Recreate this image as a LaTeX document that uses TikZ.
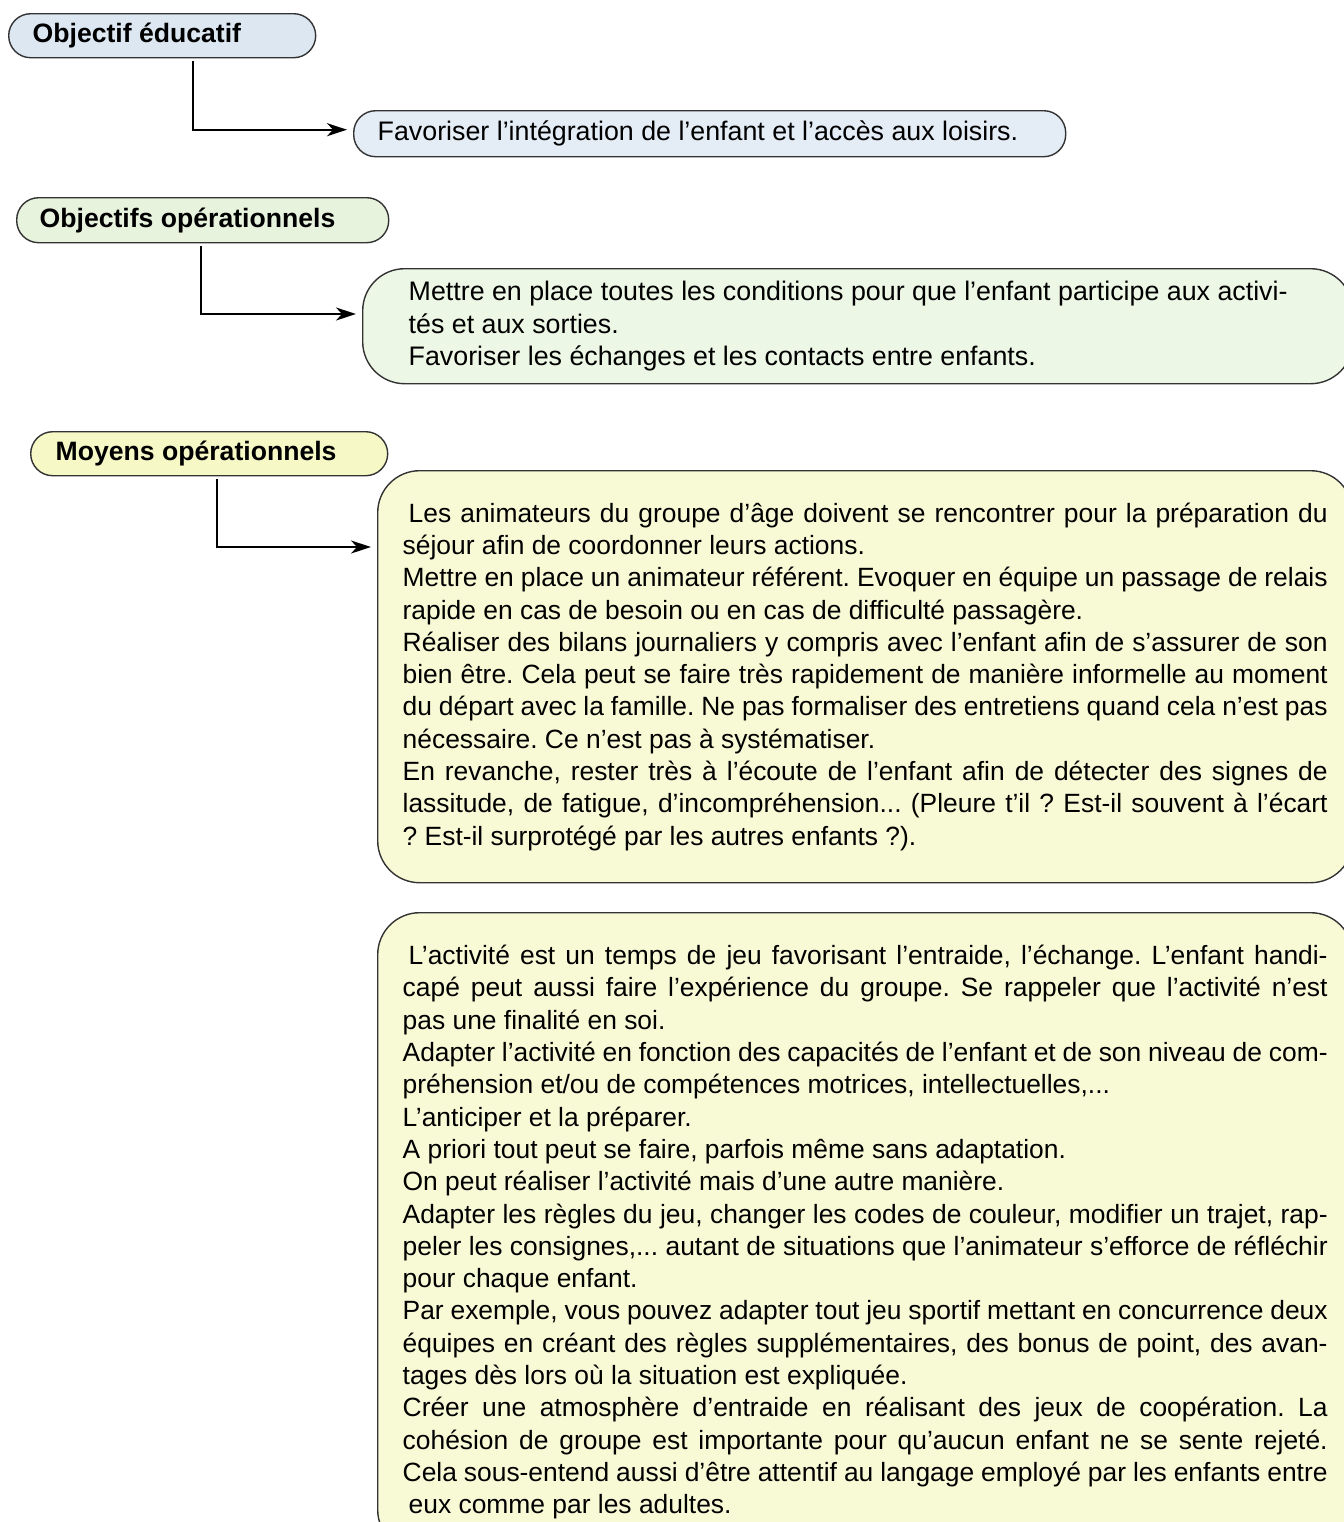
\documentclass[tikz,border=0pt]{standalone}
\usepackage{fontspec}
\setmainfont{Liberation Sans}
\usepackage{tikz}
\usetikzlibrary{arrows.meta}
\frenchspacing

\definecolor{eduBlue}{RGB}{220,231,242}
\definecolor{goalBlue}{RGB}{228,236,246}
\definecolor{opsGreen}{RGB}{232,243,222}
\definecolor{opsPale}{RGB}{237,247,230}
\definecolor{meanYellow}{RGB}{246,248,198}
\definecolor{meanPale}{RGB}{248,250,214}

\newcommand{\boxfont}{\fontsize{13.4}{16.15}\selectfont}
\newcommand{\longfont}{\fontsize{13.2}{16.15}\selectfont}
% natural word spaces (align=left fixes them otherwise)
\newcommand{\natsp}{\spaceskip=0pt\xspaceskip=0pt}
\newlength{\jw}
\setlength{\jw}{462.5pt}
% one justified line of a box
\newcommand{\jl}[1]{\makebox[\jw][s]{#1}\\}

\begin{document}
\begin{tikzpicture}[x=0.5pt,y=-0.5pt,
  box/.style={draw=black!80,line width=0.7pt,anchor=north west,align=left,inner ysep=0pt,font=\boxfont,execute at begin node=\natsp},
  pill/.style={box,rounded corners=11pt},
  hdr/.style={pill,font=\fontsize{13.3}{16}\selectfont\bfseries},
  note/.style={box,rounded corners=21pt},
  link/.style={line width=1pt,-{Stealth[length=10pt,width=6.5pt,inset=3pt]},shorten <=1.5pt,shorten >=3pt}]
  \useasboundingbox (0,0) rectangle (1344,1522);

  \node[hdr,fill=eduBlue,minimum height=22pt,inner xsep=12pt,text width=129.5pt] (edu) at (8,13) {Objectif éducatif};
  \node[pill,fill=goalBlue,minimum height=23pt,inner xsep=12pt,text width=332pt] (goal) at (353,110)
    {Favoriser l’intégration de l’enfant et l’accès aux loisirs.};

  \node[hdr,fill=opsGreen,minimum height=22.5pt,inner xsep=11.5pt,text width=163pt] (ops) at (16,197) {Objectifs opérationnels};
  \node[note,fill=opsPale,minimum height=57.5pt,inner xsep=23pt,text width=449pt] (opsbody) at (362,268)
    {Mettre en place toutes les conditions pour que l’enfant participe aux activi-\\
     tés et aux sorties.\\
     Favoriser les échanges et les contacts entre enfants.};

  \node[hdr,fill=meanYellow,minimum height=22pt,inner xsep=12.5pt,text width=153.5pt] (mean) at (30,431) {Moyens opérationnels};
  \node[note,fill=meanPale,font=\longfont,minimum height=206pt,inner xsep=12.5pt,text width=462.5pt] (team) at (377,470)
    {\jl{\hspace*{3pt}Les animateurs du groupe d’âge doivent se rencontrer pour la préparation du}
     séjour afin de coordonner leurs actions.\\
     \jl{Mettre en place un animateur référent. Evoquer en équipe un passage de relais}
     rapide en cas de besoin ou en cas de difficulté passagère.\\
     \jl{Réaliser des bilans journaliers y compris avec l’enfant afin de s’assurer de son}
     \jl{bien être. Cela peut se faire très rapidement de manière informelle au moment}
     \jl{du départ avec la famille. Ne pas formaliser des entretiens quand cela n’est pas}
     nécessaire. Ce n’est pas à systématiser.\\
     \jl{En revanche, rester très à l’écoute de l’enfant afin de détecter des signes de}
     \jl{lassitude, de fatigue, d’incompréhension... (Pleure t’il ? Est-il souvent à l’écart}
     ? Est-il surprotégé par les autres enfants ?).};
  \node[note,fill=meanPale,font=\longfont,minimum height=319.5pt,inner xsep=12.5pt,text width=462.5pt] (play) at (377,912)
    {\jl{\hspace*{3pt}L’activité est un temps de jeu favorisant l’entraide, l’échange. L’enfant handi-}
     \jl{capé peut aussi faire l’expérience du groupe. Se rappeler que l’activité n’est}
     pas une finalité en soi.\\
     \jl{Adapter l’activité en fonction des capacités de l’enfant et de son niveau de com-}
     préhension et/ou de compétences motrices, intellectuelles,...\\
     L’anticiper et la préparer.\\
     A priori tout peut se faire, parfois même sans adaptation.\\
     On peut réaliser l’activité mais d’une autre manière.\\
     \jl{Adapter les règles du jeu, changer les codes de couleur, modifier un trajet, rap-}
     \jl{peler les consignes,... autant de situations que l’animateur s’efforce de réfléchir}
     pour chaque enfant.\\
     \jl{Par exemple, vous pouvez adapter tout jeu sportif mettant en concurrence deux}
     \jl{équipes en créant des règles supplémentaires, des bonus de point, des avan-}
     tages dès lors où la situation est expliquée.\\
     \jl{Créer une atmosphère d’entraide en réalisant des jeux de coopération. La}
     \jl{cohésion de groupe est importante pour qu’aucun enfant ne se sente rejeté.}
     \jl{Cela sous-entend aussi d’être attentif au langage employé par les enfants entre}
     \hspace*{3pt}eux comme par les adultes.};

  \draw[link] ([xshift=15.25pt]edu.south) |- ([yshift=2pt]goal.west);
  \draw[link] ([xshift=-1pt]ops.south) |- ([yshift=-23pt]opsbody.north west);
  \draw[link] ([xshift=3.75pt]mean.south) |- ([yshift=-38.5pt]team.north west);
\end{tikzpicture}
\end{document}
